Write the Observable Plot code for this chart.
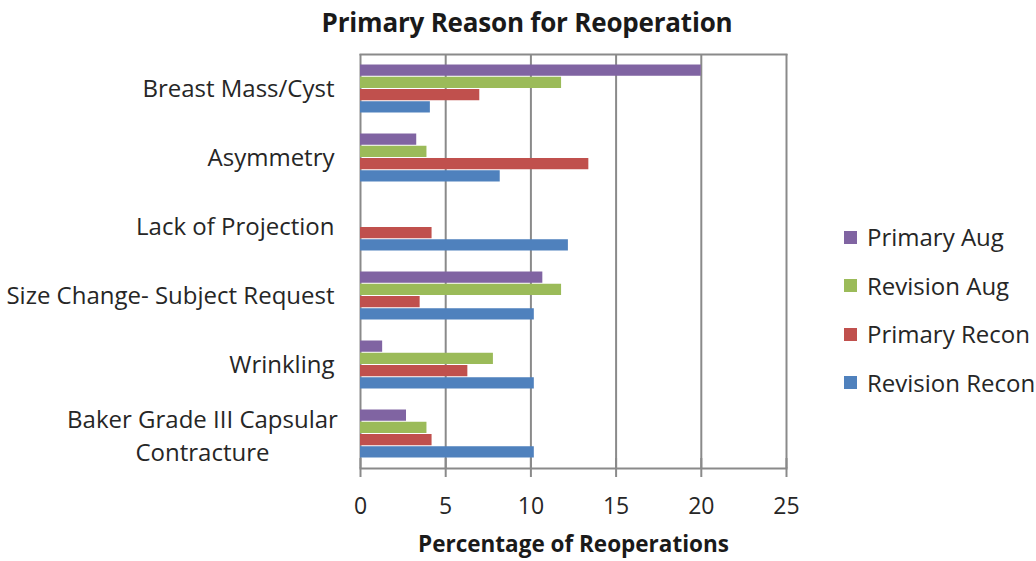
<!DOCTYPE html>
<html><head><meta charset="utf-8">
<script src="https://cdn.jsdelivr.net/npm/d3@7"></script>
<script src="https://cdn.jsdelivr.net/npm/@observablehq/plot@0.6"></script>
<style>
body{margin:0;background:#fff;font-family:"Open Sans",sans-serif;}
#wrap{position:relative;width:1036px;height:561px;overflow:hidden;background:#fff;}
#title{height:44px;position:relative;}
#title span{position:absolute;left:527px;top:0;transform:translateX(-50%);white-space:nowrap;line-height:44px;font-weight:bold;font-size:26px;color:#1a1a1a;letter-spacing:-0.2px;}
#legend{position:absolute;left:844px;top:213px;font-size:24px;color:#262626;}
#legend .row{height:48.5px;line-height:48.5px;white-space:nowrap;display:flex;align-items:center;}
#legend .sw{width:13px;height:13px;margin-right:10px;flex:none;}
</style></head>
<body>
<div id="wrap">
  <div id="title"><span></span></div>
  <div id="chart"></div>
  <div id="legend"></div>
</div>
<script>
const title = "Primary Reason for Reoperation";
const xLabel = "Percentage of Reoperations";
const categories = ["Breast Mass/Cyst","Asymmetry","Lack of Projection","Size Change- Subject Request","Wrinkling","Baker Grade III Capsular Contracture"];
const categoryLabels = ["Breast Mass/Cyst","Asymmetry","Lack of Projection","Size Change- Subject Request","Wrinkling","Baker Grade III Capsular\nContracture"];
const series = ["Primary Aug","Revision Aug","Primary Recon","Revision Recon"];
const colors = ["#8064A2","#9BBB59","#C0504D","#4F81BD"];
const primaryAug = [20, 3.3, 0, 10.7, 1.3, 2.7];
const revisionAug = [11.8, 3.9, 0, 11.8, 7.8, 3.9];
const primaryRecon = [7.0, 13.4, 4.2, 3.5, 6.3, 4.2];
const revisionRecon = [4.1, 8.2, 12.2, 10.2, 10.2, 10.2];
const xTicks = [0, 5, 10, 15, 20, 25];

const seriesValues = [primaryAug, revisionAug, primaryRecon, revisionRecon];
const data = categories.flatMap((c, i) => series.map((s, j) => ({category: c, series: s, value: seriesValues[j][i]})));
const labelData = categories.map((c, i) => ({category: c, label: categoryLabels[i], multi: categoryLabels[i].includes("\n")}));
const grid = "#8a8a8a";
const ink = "#262626";

document.querySelector("#title span").textContent = title;

const chart = Plot.plot({
  width: 1036, height: 517,
  marginTop: 10, marginBottom: 93, marginLeft: 360, marginRight: 250,
  style: {fontFamily: "'Open Sans', sans-serif", fontSize: "24px", color: ink, background: "white", overflow: "visible"},
  x: {domain: [0, 25], axis: null},
  y: {domain: series, axis: null, padding: 0, round: false},
  fy: {domain: categories, axis: null, paddingInner: 0.29, paddingOuter: 0.145, round: false},
  color: {domain: series, range: colors},
  marks: [
    Plot.ruleX(xTicks, {x: d => d, stroke: grid, strokeWidth: 2, insetTop: -10, insetBottom: -10}),
    Plot.frame({anchor: "top", facetAnchor: "top", insetTop: -10, stroke: grid, strokeWidth: 2}),
    Plot.frame({anchor: "bottom", facetAnchor: "bottom", insetBottom: -10, stroke: grid, strokeWidth: 2}),
    Plot.axisX({ticks: xTicks, tickSize: 19, tickPadding: 20, tickFormat: d => String(d), stroke: grid, strokeWidth: 2, fill: ink, label: null, fontSize: 23}),
    Plot.barX(data, {x: "value", y: "series", fy: "category", fill: "series", insetTop: 0.5, insetBottom: 0.5}),
    Plot.text(labelData.filter(d => !d.multi), {fy: "category", text: "label", frameAnchor: "left", textAnchor: "end", dx: -26, fill: ink}),
    Plot.text(labelData.filter(d => d.multi), {fy: "category", text: "label", frameAnchor: "left", textAnchor: "middle", dx: -158, lineHeight: 1.38, fill: ink}),
    Plot.text([xLabel], {fy: () => categories[categories.length - 1], text: d => d, frameAnchor: "bottom", lineAnchor: "bottom", dy: 94, fontWeight: "bold", fontSize: 22.5, fill: "#1a1a1a"})
  ]
});
document.getElementById("chart").appendChild(chart);

const legend = document.getElementById("legend");
series.forEach((s, i) => {
  const row = document.createElement("div");
  row.className = "row";
  const sw = document.createElement("span");
  sw.className = "sw";
  sw.style.background = chart.scale("color").apply(s);
  const t = document.createElement("span");
  t.textContent = s;
  row.appendChild(sw); row.appendChild(t);
  legend.appendChild(row);
});
</script>
</body></html>
